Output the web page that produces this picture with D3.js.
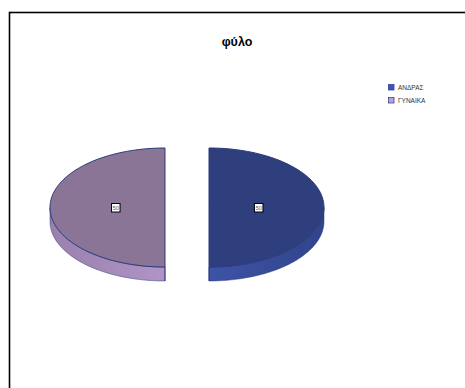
<!DOCTYPE html>
<html><head><meta charset="utf-8">
<script src="https://cdn.jsdelivr.net/npm/d3@7"></script>
<style>html,body{margin:0;padding:0;background:#fff;}svg{display:block;}</style>
</head><body>
<svg id="c" width="465" height="388"></svg>
<script>
const categories = ["ΑΝΔΡΑΣ", "ΓΥΝΑΙΚΑ"];
const values = [50, 50];
const labels = ["50", "50"];
const title = "φύλο";

const topColors = ["#2f3f7d", "#8a7596"];
const sideLight = ["#3d53a6", "#b094c6"];
const sideDark = ["#31448c", "#9a80ad"];
const legendColors = ["#4152b0", "#b8a3d3"];

const svg = d3.select("#c");
const W = 465, H = 388;

// frame
svg.append("rect").attr("x", 9.5).attr("y", 12.5).attr("width", 480).attr("height", 400)
  .attr("fill", "#fff").attr("stroke", "#000").attr("stroke-width", 1.6);

svg.append("text").attr("x", 237).attr("y", 46).attr("text-anchor", "middle")
  .attr("font-family", "Liberation Sans, Arial, sans-serif").attr("font-weight", "bold")
  .attr("font-size", 12.5).text(title);

const cx = 187, cy = 207.5, rx = 115, ry = 59.5, depth = 14, explode = 22;
const pie = d3.pie().sort(null).value(d => d)(values);

const defs = svg.append("defs");
categories.forEach((c, i) => {
  const g = defs.append("linearGradient").attr("id", "side" + i).attr("x1", 0).attr("x2", 1).attr("y1", 0).attr("y2", 0);
  g.append("stop").attr("offset", "0%").attr("stop-color", i === 0 ? sideLight[i] : sideDark[i]);
  g.append("stop").attr("offset", "100%").attr("stop-color", i === 0 ? sideDark[i] : sideLight[i]);
});

function pt(a, ox, oy, dy) { return [ox + rx * Math.sin(a), oy - ry * Math.cos(a) + (dy || 0)]; }

const slices = pie.map((p, i) => {
  const mid = (p.startAngle + p.endAngle) / 2;
  const ox = cx + explode * Math.sin(mid);
  const oy = cy - explode * (ry / rx) * Math.cos(mid);
  return { p, i, ox, oy, mid };
});

// sides
slices.forEach(s => {
  const a0 = Math.max(s.p.startAngle, Math.PI / 2), a1 = Math.min(s.p.endAngle, 3 * Math.PI / 2);
  if (a1 <= a0) return;
  const n = 80, top = [], bot = [];
  for (let k = 0; k <= n; k++) {
    const a = a0 + (a1 - a0) * k / n;
    top.push(pt(a, s.ox, s.oy)); bot.push(pt(a, s.ox, s.oy, depth));
  }
  const poly = top.concat(bot.reverse());
  svg.append("path").attr("d", "M" + poly.map(q => q.join(",")).join("L") + "Z")
    .attr("fill", "url(#side" + s.i + ")").attr("stroke", "#2b3a7a").attr("stroke-width", 0.5);
  // flat cut face edge
  const edgeA = s.i === 0 ? s.p.endAngle : s.p.startAngle;
  const e = pt(edgeA, s.ox, s.oy);
  svg.append("line").attr("x1", e[0]).attr("y1", e[1]).attr("x2", e[0]).attr("y2", e[1] + depth)
    .attr("stroke", "#2b3a7a").attr("stroke-width", 1);
});

// tops
slices.forEach(s => {
  const n = 120, pts = [];
  for (let k = 0; k <= n; k++) pts.push(pt(s.p.startAngle + (s.p.endAngle - s.p.startAngle) * k / n, s.ox, s.oy));
  svg.append("path").attr("d", "M" + s.ox + "," + s.oy + "L" + pts.map(q => q.join(",")).join("L") + "Z")
    .attr("fill", topColors[s.i]).attr("stroke", "#2b3a7a").attr("stroke-width", 1);
});

// labels
slices.forEach(s => {
  const r = 4 * 1 / (3 * Math.PI) * 1;
  const lx = s.ox + 0.43 * rx * Math.sin(s.mid);
  const ly = s.oy - 0.43 * ry * Math.cos(s.mid);
  svg.append("rect").attr("x", lx - 4).attr("y", ly - 4).attr("width", 8.5).attr("height", 8.5)
    .attr("fill", "#fff").attr("stroke", "#000").attr("stroke-width", 1);
  svg.append("text").attr("x", lx + 0.3).attr("y", ly + 2).attr("text-anchor", "middle")
    .attr("font-family", "Liberation Sans, Arial, sans-serif").attr("font-size", 5.5).attr("fill", "#555")
    .text(labels[s.i]);
});

// legend
categories.forEach((c, i) => {
  const y = 84 + i * 13;
  svg.append("rect").attr("x", 388.5).attr("y", y + 0.5).attr("width", 5.5).attr("height", 5.5)
    .attr("fill", legendColors[i]).attr("stroke", "#3646a0").attr("stroke-width", 0.8);
  svg.append("text").attr("x", 398).attr("y", y + 6).attr("font-family", "Liberation Sans, Arial, sans-serif")
    .attr("font-size", 6.5).attr("fill", "#333").text(c);
});
</script>
</body></html>
